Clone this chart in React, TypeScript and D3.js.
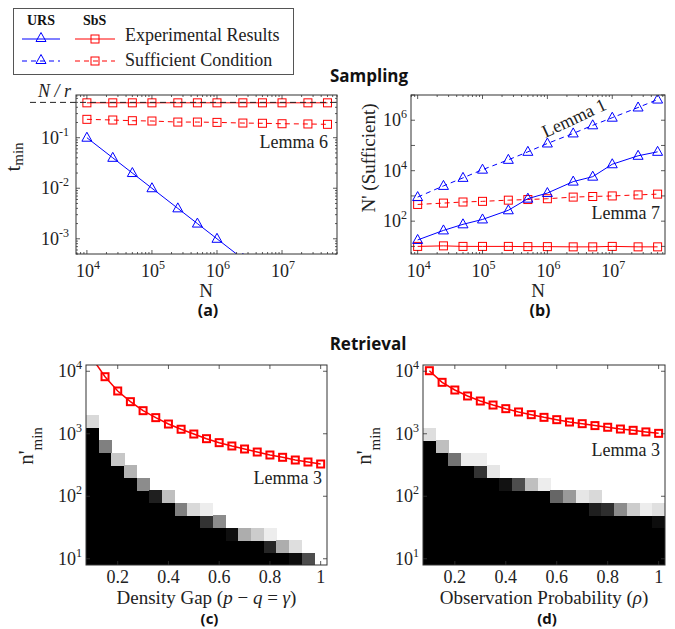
import React from "react";
import * as d3 from "d3";

// ---- sampling data (N on the x axis) ----
const nValues = [1e4, 2.5e4, 5e4, 1e5, 2.5e5, 5e5, 1e6, 2.5e6, 5e6, 1e7, 2.5e7, 5e7];
const tminUrsExp = [0.1, 0.04, 0.02, 0.01, 0.004, 0.002, 0.001, 0.0004, 0.0002, 0.0001, 0.00004, 0.00002];
const tminSbsExp = [0.49, 0.49, 0.49, 0.49, 0.49, 0.49, 0.49, 0.49, 0.49, 0.49, 0.49, 0.49];
const tminSbsSuff = [0.231, 0.224, 0.217, 0.214, 0.204, 0.204, 0.201, 0.195, 0.193, 0.189, 0.187, 0.184];
const nOverR = 0.5;

const nPrimeUrsSuff = [900, 2500, 5200, 11000, 27000, 56000, 120000, 300000, 630000, 1260000, 3200000, 6600000];
const nPrimeUrsExp = [18, 43, 75, 117, 270, 780, 1300, 3700, 5800, 18000, 39000, 56000];
const nPrimeSbsSuff = [460, 520, 575, 610, 680, 720, 775, 900, 950, 1000, 1100, 1180];
const nPrimeSbsExp = [10, 10.5, 10, 10, 10, 9.8, 9.8, 9.6, 9.6, 10, 9.6, 9.6];

// ---- retrieval data ----
const gammaValues = [0.1, 0.15, 0.2, 0.25, 0.3, 0.35, 0.4, 0.45, 0.5, 0.55, 0.6, 0.65, 0.7, 0.75, 0.8, 0.85, 0.9, 0.95, 1.0];
const rhoValues = [0.1, 0.15, 0.2, 0.25, 0.3, 0.35, 0.4, 0.45, 0.5, 0.55, 0.6, 0.65, 0.7, 0.75, 0.8, 0.85, 0.9, 0.95, 1.0];
const nminGammaSuff = [16000, 8180, 4830, 3260, 2340, 1810, 1430, 1180, 990, 834, 720, 637, 570, 510, 457, 420, 380, 353, 328];
const nminRhoSuff = [10200, 6650, 5010, 4020, 3340, 2880, 2520, 2230, 2020, 1830, 1680, 1540, 1450, 1350, 1270, 1190, 1135, 1070, 1015];

// heatmap rows sit at n' = 10^1, 10^1.2, ... 10^4
const heatRowExp = [1, 1.2, 1.4, 1.6, 1.8, 2, 2.2, 2.4, 2.6, 2.8, 3, 3.2, 3.4, 3.6, 3.8, 4];
// per column: number of black rows from the bottom, then the grey levels above them (rest white)
const gammaBlackRows = [11, 9, 8, 7, 6, 5, 5, 4, 4, 3, 3, 2, 2, 2, 1, 1, 0, 0, 0];
const gammaEdgeGray = [[0.85], [0.5], [0.78], [0.7], [0.55], [0.12], [0.75], [0.5], [0.85], [0.2, 0.93], [0.55], [0.06], [0.68], [0.8], [0.15, 0.93], [0.68], [0.05, 0.87], [0.3], []];
const rhoBlackRows = [10, 9, 8, 8, 7, 7, 6, 6, 6, 6, 5, 5, 5, 4, 4, 4, 4, 4, 3];
const rhoEdgeGray = [[0.87], [0.75], [0.45], [0.93], [0.2, 0.93], [0.9], [0.07], [0.3], [0.75], [0.93], [0.4], [0.6], [0.9], [0.12, 0.85], [0.18], [0.55], [0.8], [0.93], [0.05, 0.88]];

const serif = "Liberation Serif, Tinos, Times New Roman, DejaVu Serif, serif";
const sans = "Open Sans, Noto Sans, sans-serif";
const axisColor = "#333";
const BLUE = "#0000ff";
const RED = "#ff0000";

const serifStyle = { fontFamily: serif };
const sansStyle = { fontFamily: sans, fontWeight: 700 };

function logTicks(lo: number, hi: number) {
  const out: { v: number; major: boolean }[] = [];
  for (let e = Math.floor(Math.log10(lo)); e <= Math.ceil(Math.log10(hi)); e++)
    for (let m = 1; m <= 9; m++) {
      const v = m * 10 ** e;
      if (v >= lo && v <= hi) out.push({ v, major: m === 1 });
    }
  return out;
}

function Frame({ x, y, xt, yt }: any) {
  const [x0, x1] = x.range();
  const [y1, y0] = y.range();
  const els: any[] = [];
  xt.forEach((t: any, i: number) => {
    const p = x(t.v);
    const L = t.major ? 4 : 2;
    els.push(<line key={"xb" + i} x1={p} x2={p} y1={y1} y2={y1 - L} />);
    els.push(<line key={"xt" + i} x1={p} x2={p} y1={y0} y2={y0 + L} />);
  });
  yt.forEach((t: any, i: number) => {
    const p = y(t.v);
    const L = t.major ? 4 : 2;
    els.push(<line key={"yl" + i} x1={x0} x2={x0 + L} y1={p} y2={p} />);
    els.push(<line key={"yr" + i} x1={x1} x2={x1 - L} y1={p} y2={p} />);
  });
  return (
    <g stroke={axisColor} strokeWidth={0.8} fill="none">
      {els}
      <rect x={x0} y={y0} width={x1 - x0} height={y1 - y0} strokeWidth={1} />
    </g>
  );
}

function PowLabel({ x, y, exp, anchor }: any) {
  return (
    <text x={x} y={y} textAnchor={anchor} style={serifStyle} fontSize={18} fill="#222">
      10<tspan dy={-8} fontSize={12}>{exp}</tspan>
    </text>
  );
}

const tri = "M0,-5.5L5,3.5L-5,3.5Z";

function Series({ xs, vals, x, y, color, dashed, marker, clip, size = 8, sw = 1, lw = 1 }: any) {
  const path = d3.line<number>().x((_, i) => x(xs[i])).y((d) => y(d))(vals);
  return (
    <g clipPath={`url(#${clip})`}>
      <path d={path || ""} fill="none" stroke={color} strokeWidth={lw} strokeDasharray={dashed ? "5,4" : undefined} />
      {vals.map((v: number, i: number) => {
        const cx = x(xs[i]);
        const cy = y(v);
        return marker === "tri" ? (
          <path key={i} d={tri} transform={`translate(${cx},${cy})`} fill="none" stroke={color} strokeWidth={sw} />
        ) : (
          <rect key={i} x={cx - size / 2} y={cy - size / 2} width={size} height={size} fill="none" stroke={color} strokeWidth={sw} />
        );
      })}
    </g>
  );
}

function PanelA() {
  const x = d3.scaleLog().domain([6800, 7e7]).range([76, 337]);
  const y = d3.scaleLog().domain([5e-4, 0.7]).range([254, 95]);
  const xt = logTicks(6800, 7e7);
  const yt = logTicks(5e-4, 0.7);
  return (
    <g>
      <clipPath id="clipA"><rect x={76} y={95} width={261} height={159} /></clipPath>
      <Series xs={nValues} vals={tminSbsSuff} x={x} y={y} color={RED} dashed marker="sq" clip="clipA" />
      <Series xs={nValues} vals={tminSbsExp} x={x} y={y} color={RED} marker="sq" clip="clipA" />
      <line x1={30} x2={337} y1={y(nOverR)} y2={y(nOverR)} stroke="#222" strokeWidth={1} strokeDasharray="6,4" />
      <Series xs={nValues} vals={tminUrsExp} x={x} y={y} color={BLUE} marker="tri" clip="clipA" />
      <Frame x={x} y={y} xt={xt} yt={yt} />
      {[1e4, 1e5, 1e6, 1e7].map((v) => (
        <PowLabel key={v} x={x(v) + 1} y={277} exp={Math.log10(v)} anchor="middle" />
      ))}
      {[1e-3, 1e-2, 1e-1].map((v) => (
        <PowLabel key={v} x={69} y={y(v) + 6} exp={Math.round(Math.log10(v))} anchor="end" />
      ))}
      <text x={38} y={97} style={serifStyle} fontStyle="italic" fontSize={18} fill="#222">N / r</text>
      <text x={328} y={148} textAnchor="end" style={serifStyle} fontSize={18} fill="#222">Lemma 6</text>
      <text transform="translate(20,157) rotate(-90)" textAnchor="middle" style={serifStyle} fontSize={21} fill="#222">
        t<tspan dy={3} fontSize={15}>min</tspan>
      </text>
      <text x={206} y={297} textAnchor="middle" style={serifStyle} fontSize={19} fill="#222">N</text>
      <text x={208} y={316} textAnchor="middle" style={sansStyle} fontSize={16} fill="#111">(a)</text>
    </g>
  );
}

function PanelB() {
  const x = d3.scaleLog().domain([7900, 6.5e7]).range([411, 665]);
  const y = d3.scaleLog().domain([5, 1e7]).range([254, 95]);
  const xt = logTicks(7900, 6.5e7);
  const yt = logTicks(5, 1e7).filter((t) => t.major);
  return (
    <g>
      <clipPath id="clipB"><rect x={411} y={95} width={254} height={159} /></clipPath>
      <Series xs={nValues} vals={nPrimeSbsSuff} x={x} y={y} color={RED} dashed marker="sq" clip="clipB" />
      <Series xs={nValues} vals={nPrimeSbsExp} x={x} y={y} color={RED} marker="sq" clip="clipB" />
      <Series xs={nValues} vals={nPrimeUrsSuff} x={x} y={y} color={BLUE} dashed marker="tri" clip="clipB" />
      <Series xs={nValues} vals={nPrimeUrsExp} x={x} y={y} color={BLUE} marker="tri" clip="clipB" />
      <Frame x={x} y={y} xt={xt} yt={yt} />
      {[1e4, 1e5, 1e6, 1e7].map((v) => (
        <PowLabel key={v} x={x(v) + 1} y={277} exp={Math.log10(v)} anchor="middle" />
      ))}
      {[1e2, 1e4, 1e6].map((v) => (
        <PowLabel key={v} x={407} y={y(v) + 6} exp={Math.round(Math.log10(v))} anchor="end" />
      ))}
      <text transform="translate(574,118) rotate(-25)" textAnchor="middle" dominantBaseline="central" style={serifStyle} fontSize={18} fill="#222">Lemma 1</text>
      <text x={660} y={219} textAnchor="end" style={serifStyle} fontSize={18} fill="#222">Lemma 7</text>
      <text transform="translate(375,158) rotate(-90)" textAnchor="middle" style={serifStyle} fontSize={19} fill="#222">N' (Sufficient)</text>
      <text x={538} y={297} textAnchor="middle" style={serifStyle} fontSize={19} fill="#222">N</text>
      <text x={540} y={316} textAnchor="middle" style={sansStyle} fontSize={16} fill="#111">(b)</text>
    </g>
  );
}

function Heat({ xs, black, edge, x, y }: any) {
  const cells: any[] = [];
  xs.forEach((xv: number, i: number) => {
    const vals = [...Array(black[i]).fill(0), ...edge[i]];
    vals.forEach((g: number, k: number) => {
      const e = heatRowExp[k];
      const c = Math.round(g * 255);
      cells.push(
        <rect key={i + "-" + k} x={x(xv - 0.025)} y={y(10 ** (e + 0.1))} width={x(xv + 0.025) - x(xv - 0.025) + 0.5}
          height={y(10 ** (e - 0.1)) - y(10 ** (e + 0.1)) + 0.5} fill={`rgb(${c},${c},${c})`} />
      );
    });
  });
  return <g shapeRendering="crispEdges">{cells}</g>;
}

function PanelRetrieval({ id, x0, x1, xs, suff, black, edge, xTitle, tag, ylabX, lemmaY }: any) {
  const x = d3.scaleLinear().domain([0.075, 1.025]).range([x0, x1]);
  const y = d3.scaleLog().domain([10 ** 0.9, 10 ** 4.1]).range([565, 365]);
  const xt = [0.2, 0.4, 0.6, 0.8, 1].map((v) => ({ v, major: true }));
  const yt = [10, 100, 1000, 10000].map((v) => ({ v, major: true }));
  const cx = (x0 + x1) / 2;
  return (
    <g>
      <clipPath id={id}><rect x={x0} y={365} width={x1 - x0} height={200} /></clipPath>
      <g clipPath={`url(#${id})`}>
        <Heat xs={xs} black={black} edge={edge} x={x} y={y} />
      </g>
      <Series xs={xs} vals={suff} x={x} y={y} color={RED} marker="sq" clip={id} size={7} sw={2} lw={1.5} />
      <Frame x={x} y={y} xt={xt} yt={yt} />
      {xt.map((t) => (
        <text key={t.v} x={x(t.v)} y={583} textAnchor="middle" style={serifStyle} fontSize={18} fill="#222">{String(t.v)}</text>
      ))}
      {yt.map((t) => (
        <PowLabel key={t.v} x={x0 - 4} y={y(t.v) + 6} exp={Math.round(Math.log10(t.v))} anchor="end" />
      ))}
      <text x={x1 - 5} y={lemmaY} textAnchor="end" style={serifStyle} fontSize={18} fill="#222">Lemma 3</text>
      <text transform={`translate(${ylabX},446) rotate(-90)`} textAnchor="middle" style={serifStyle} fontSize={21} fill="#222">
        n'<tspan dy={9} fontSize={15}>min</tspan>
      </text>
      <text x={cx} y={604} textAnchor="middle" style={serifStyle} fontSize={19} fill="#222">{xTitle}</text>
      <text x={cx + 3} y={624} textAnchor="middle" style={sansStyle} fontSize={15} fill="#111">{tag}</text>
    </g>
  );
}

function Legend() {
  return (
    <g>
      <rect x={13.5} y={8.5} width={280} height={66} fill="#fff" stroke="#555" strokeWidth={1} />
      <text x={27} y={25} style={{ fontFamily: serif, fontWeight: 700 }} fontSize={14} fill="#111">URS</text>
      <text x={83} y={25} style={{ fontFamily: serif, fontWeight: 700 }} fontSize={14} fill="#111">SbS</text>
      <line x1={22} x2={60} y1={39} y2={39} stroke={BLUE} />
      <path d={tri} transform="translate(41,38)" fill="none" stroke={BLUE} />
      <line x1={75} x2={115} y1={39} y2={39} stroke={RED} />
      <rect x={91} y={35} width={8} height={8} fill="none" stroke={RED} />
      <line x1={22} x2={60} y1={61} y2={61} stroke={BLUE} strokeDasharray="5,4" />
      <path d={tri} transform="translate(41,60)" fill="none" stroke={BLUE} />
      <line x1={75} x2={115} y1={61} y2={61} stroke={RED} strokeDasharray="5,4" />
      <rect x={91} y={57} width={8} height={8} fill="none" stroke={RED} />
      <text x={125} y={41} style={serifStyle} fontSize={18} fill="#222">Experimental Results</text>
      <text x={125} y={66} style={serifStyle} fontSize={18} fill="#222">Sufficient Condition</text>
    </g>
  );
}

export default function App() {
  return (
    <svg width={675} height={629} style={{ position: "absolute", left: 0, top: 0, background: "#fff" }}>
      <rect width={675} height={629} fill="#fff" />
      <Legend />
      <text x={369} y={82} textAnchor="middle" style={sansStyle} fontSize={17} fill="#111">Sampling</text>
      <PanelA />
      <PanelB />
      <text x={368} y={350} textAnchor="middle" style={sansStyle} fontSize={17} fill="#111">Retrieval</text>
      <PanelRetrieval id="clipC" x0={86} x1={327} xs={gammaValues} suff={nminGammaSuff} black={gammaBlackRows} edge={gammaEdgeGray}
        xTitle={<>Density Gap (<tspan fontStyle="italic">p</tspan> − <tspan fontStyle="italic">q</tspan> = <tspan fontStyle="italic">γ</tspan>)</>}
        tag="(c)" ylabX={33} lemmaY={484} />
      <PanelRetrieval id="clipD" x0={423} x1={665} xs={rhoValues} suff={nminRhoSuff} black={rhoBlackRows} edge={rhoEdgeGray}
        xTitle={<>Observation Probability (<tspan fontStyle="italic">ρ</tspan>)</>}
        tag="(d)" ylabX={371} lemmaY={456} />
    </svg>
  );
}
